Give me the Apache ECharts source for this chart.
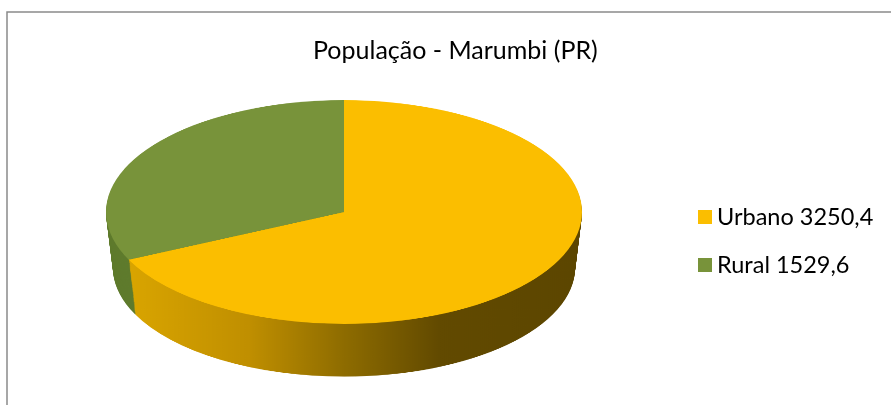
<!DOCTYPE html>
<html>
<head>
<meta charset="utf-8">
<script src="https://cdn.jsdelivr.net/npm/echarts@6/dist/echarts.min.js"></script>
<style>
  html, body { margin: 0; padding: 0; background: #fff; overflow: hidden; }
  #wrap { position: relative; width: 891px; height: 405px; overflow: hidden; }
  #pie { position: absolute; left: 0; top: 0; width: 891px; height: 860px;
         transform: scaleY(0.47); transform-origin: 0 0; }
  #main { position: absolute; left: 0; top: 0; width: 891px; height: 405px; }
</style>
</head>
<body>
<div id="wrap">
  <div id="pie"></div>
  <div id="main"></div>
</div>
<script>
// data
const titleText = 'População - Marumbi (PR)'
const categories = ['Urbano', 'Rural']
const values = [3250.4, 1529.6]

// styles
const topColors = ['#FBBE00', '#78933A']
const squash = 0.47          // vertical squash of the pie layer
const cx = 344, cyTop = 212  // on-screen centre of top face
const radius = 238
const depth = 56             // on-screen thickness in px
const shrink = 7             // perspective: bottom a bit narrower

const fmt = v => v.toFixed(1).replace('.', ',')
const pieData = categories.map((c, i) => ({ name: c, value: values[i] }))

const sideColors = [
  { type: 'linear', x: cx - radius, y: 0, x2: cx + radius, y2: 0, global: true,
    colorStops: [
      { offset: 0, color: '#DEA900' },
      { offset: 0.3, color: '#C08F00' },
      { offset: 0.5, color: '#8E6C00' },
      { offset: 0.7, color: '#624A00' },
      { offset: 1, color: '#5C4600' }
    ] },
  '#5F7B2D'
]

const basePie = {
  type: 'pie',
  startAngle: 90,
  clockwise: true,
  silent: true,
  animation: false,
  label: { show: false },
  labelLine: { show: false },
  emphasis: { disabled: true }
}

const pieSeries = []
for (let k = depth; k >= 1; k--) {
  pieSeries.push({
    ...basePie,
    center: [cx, (cyTop + k) / squash],
    radius: radius - shrink * k / depth,
    data: pieData.map((d, i) => ({ ...d, itemStyle: { color: sideColors[i], borderWidth: 0 } }))
  })
}
pieSeries.push({
  ...basePie,
  center: [cx, cyTop / squash],
  radius: radius,
  data: pieData.map((d, i) => ({ ...d, itemStyle: { color: topColors[i], borderWidth: 0 } }))
})

const pieChart = echarts.init(document.getElementById('pie'))
pieChart.setOption({ animation: false, series: pieSeries })

const mainChart = echarts.init(document.getElementById('main'))
mainChart.setOption({
  animation: false,
  title: {
    text: titleText,
    left: 313,
    top: 38,
    padding: 0,
    textStyle: { fontFamily: 'Lato', fontSize: 25, fontWeight: 'normal', color: '#000' }
  },
  legend: {
    orient: 'vertical',
    left: 693,
    top: 200,
    icon: 'rect',
    itemWidth: 14,
    itemHeight: 14,
    itemGap: 24,
    data: categories,
    formatter: name => name + ' ' + fmt(values[categories.indexOf(name)]),
    textStyle: { fontFamily: 'Lato', fontSize: 23.5, color: '#000', padding: [0, 0, 0, 0] }
  },
  graphic: [{
    type: 'rect',
    shape: { x: 7, y: 12, width: 1000, height: 1000 },
    style: { fill: 'none', stroke: '#8a8a8a', lineWidth: 1.5 },
    silent: true
  }],
  series: [{
    ...basePie,
    radius: [0, 0],
    center: [-100, -100],
    data: pieData.map((d, i) => ({ ...d, itemStyle: { color: topColors[i] } }))
  }]
})
</script>
</body>
</html>
